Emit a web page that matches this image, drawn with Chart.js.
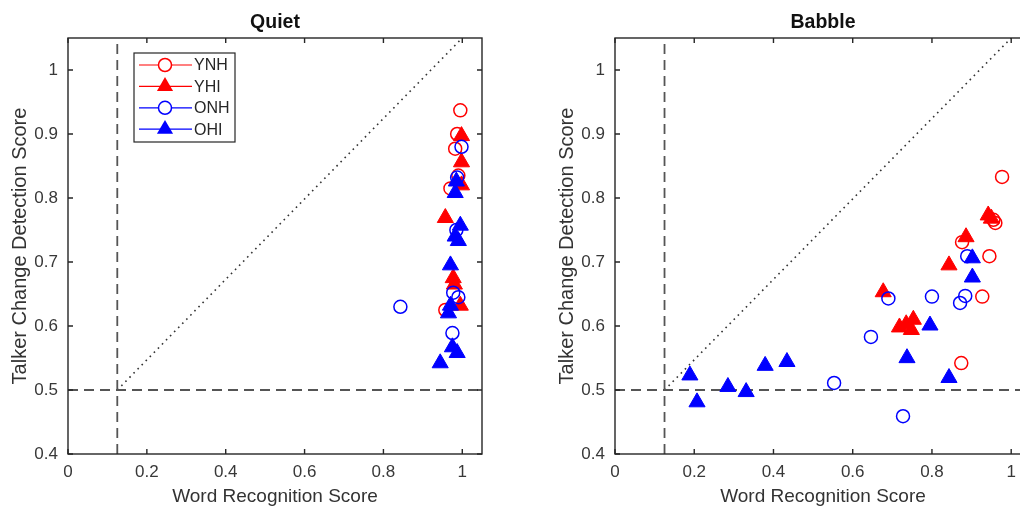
<!DOCTYPE html>
<html>
<head>
<meta charset="utf-8">
<script src="https://cdn.jsdelivr.net/npm/chart.js@4/dist/chart.umd.min.js"></script>
<style>
  html, body { margin: 0; padding: 0; background: #fff; overflow: hidden; width: 1020px; height: 508px; }
  canvas { position: absolute; top: 0; }
  #quietChart { left: 0; }
  #babbleChart { left: 547px; }
</style>
</head>
<body>
<canvas id="quietChart" width="510" height="508"></canvas>
<canvas id="babbleChart" width="512" height="508"></canvas>
<script>
// ───────── data ─────────
const groups = ['YNH', 'YHI', 'ONH', 'OHI'];

// Quiet: [word recognition, talker change detection]
const quietYNH = [[0.995, 0.937], [0.987, 0.900], [0.982, 0.877], [0.990, 0.835], [0.970, 0.815], [0.957, 0.625]];
const quietYHI = [[0.998, 0.897], [0.998, 0.856], [0.998, 0.820], [0.957, 0.769], [0.977, 0.675], [0.980, 0.665], [0.995, 0.632]];
const quietONH = [[0.998, 0.880], [0.987, 0.832], [0.985, 0.750], [0.977, 0.652], [0.990, 0.645], [0.843, 0.630], [0.975, 0.589]];
const quietOHI = [[0.985, 0.826], [0.982, 0.808], [0.995, 0.757], [0.982, 0.740], [0.990, 0.733], [0.970, 0.695],
                  [0.970, 0.632], [0.965, 0.620], [0.975, 0.567], [0.987, 0.558], [0.944, 0.542]];

// Babble
const babbleYNH = [[0.977, 0.833], [0.955, 0.766], [0.960, 0.761], [0.876, 0.731], [0.945, 0.709], [0.927, 0.646], [0.874, 0.542]];
const babbleYHI = [[0.942, 0.773], [0.950, 0.768], [0.886, 0.739], [0.843, 0.695], [0.677, 0.653],
                   [0.718, 0.598], [0.735, 0.603], [0.748, 0.594], [0.753, 0.610]];
const babbleONH = [[0.889, 0.709], [0.690, 0.643], [0.800, 0.646], [0.884, 0.647], [0.871, 0.636],
                   [0.646, 0.583], [0.553, 0.511], [0.727, 0.459]];
const babbleOHI = [[0.902, 0.706], [0.902, 0.676], [0.795, 0.601], [0.737, 0.550], [0.843, 0.519],
                   [0.189, 0.523], [0.207, 0.481], [0.285, 0.505], [0.331, 0.497], [0.379, 0.538], [0.434, 0.544]];

// chance levels + diagonal reference
const chanceWord = 0.125;
const chanceTalker = 0.5;
const diagEnd = [1.0, 1.05];

// axes
const xRange = [0, 1.05];
const yRange = [0.4, 1.05];
const xTicks = [0, 0.2, 0.4, 0.6, 0.8, 1];
const xTickLabels = ['0', '0.2', '0.4', '0.6', '0.8', '1'];
const yTicks = [0.4, 0.5, 0.6, 0.7, 0.8, 0.9, 1];
const yTickLabels = ['0.4', '0.5', '0.6', '0.7', '0.8', '0.9', '1'];

const FONT = "'Liberation Sans', Arial, sans-serif";
const INK = '#262626';

// marker styles per group
const styles = {
    YNH: { color: '#ff0000', shape: 'circle', filled: false, r: 6.5 },
    YHI: { color: '#ff0000', shape: 'triangle', filled: true, r: 9.3 },
    ONH: { color: '#0000ff', shape: 'circle', filled: false, r: 6.5 },
    OHI: { color: '#0000ff', shape: 'triangle', filled: true, r: 9.3 }
};

function groupDataset(name, pts, order) {
    const s = styles[name];
    return {
        type: 'scatter',
        label: name,
        data: pts.map(p => ({ x: p[0], y: p[1] })),
        pointStyle: s.shape,
        pointRadius: s.r,
        pointBorderWidth: s.filled ? 1 : 1.5,
        pointBorderColor: s.color,
        pointBackgroundColor: s.filled ? s.color : 'rgba(0,0,0,0)',
        order: order
    };
}

function refDatasets() {
    const base = { type: 'line', pointRadius: 0, fill: false, tension: 0, order: 10 };
    return [
        { ...base, data: [{ x: chanceWord, y: yRange[0] }, { x: chanceWord, y: yRange[1] }],
          borderColor: '#555', borderWidth: 1.8, borderDash: [10, 6] },
        { ...base, data: [{ x: xRange[0], y: chanceTalker }, { x: xRange[1], y: chanceTalker }],
          borderColor: '#555', borderWidth: 1.8, borderDash: [10, 6] },
        { ...base, data: [{ x: chanceWord, y: chanceTalker }, { x: diagEnd[0], y: diagEnd[1] }],
          borderColor: '#333', borderWidth: 1.6, borderDash: [1.6, 4.2] }
    ];
}

function drawMarker(ctx, name, x, y) {
    const s = styles[name];
    ctx.beginPath();
    if (s.shape === 'circle') {
        ctx.arc(x, y, s.r, 0, Math.PI * 2);
        ctx.lineWidth = 1.5;
        ctx.strokeStyle = s.color;
        ctx.fillStyle = '#fff';
        ctx.fill();
        ctx.stroke();
    } else {
        let rad = 0;
        ctx.moveTo(x + Math.sin(rad) * s.r, y - Math.cos(rad) * s.r);
        rad += 2 * Math.PI / 3;
        ctx.lineTo(x + Math.sin(rad) * s.r, y - Math.cos(rad) * s.r);
        rad += 2 * Math.PI / 3;
        ctx.lineTo(x + Math.sin(rad) * s.r, y - Math.cos(rad) * s.r);
        ctx.closePath();
        ctx.fillStyle = s.color;
        ctx.fill();
    }
}

// axes box, inward ticks, panel title, legend
const framePlugin = {
    id: 'frame',
    afterDatasetsDraw(chart, args, opts) {
        const { ctx, chartArea: a, scales: { x, y } } = chart;
        ctx.save();
        ctx.strokeStyle = INK;
        ctx.lineWidth = 1.4;
        ctx.strokeRect(a.left, a.top, a.right - a.left, a.bottom - a.top);

        ctx.beginPath();
        xTicks.forEach(v => {
            const px = x.getPixelForValue(v);
            ctx.moveTo(px, a.bottom); ctx.lineTo(px, a.bottom - 5);
            ctx.moveTo(px, a.top); ctx.lineTo(px, a.top + 5);
        });
        yTicks.forEach(v => {
            const py = y.getPixelForValue(v);
            ctx.moveTo(a.left, py); ctx.lineTo(a.left + 5, py);
            ctx.moveTo(a.right, py); ctx.lineTo(a.right - 5, py);
        });
        ctx.stroke();

        // title
        ctx.fillStyle = '#111';
        ctx.font = `bold 19.5px ${FONT}`;
        ctx.textAlign = 'center';
        ctx.textBaseline = 'middle';
        ctx.fillText(opts.title, (a.left + a.right) / 2, 23);

        // legend
        if (opts.legend) {
            const bx = a.left + 66, by = a.top + 15, bw = 101, bh = 89;
            ctx.fillStyle = '#fff';
            ctx.fillRect(bx, by, bw, bh);
            ctx.strokeStyle = INK;
            ctx.lineWidth = 1.2;
            ctx.strokeRect(bx, by, bw, bh);
            groups.forEach((g, i) => {
                const ry = by + 12 + i * 21.4;
                ctx.strokeStyle = styles[g].color;
                ctx.lineWidth = 1.2;
                ctx.beginPath();
                ctx.moveTo(bx + 5, ry); ctx.lineTo(bx + 58, ry);
                ctx.stroke();
                drawMarker(ctx, g, bx + 31, ry);
                ctx.fillStyle = INK;
                ctx.font = `16px ${FONT}`;
                ctx.textAlign = 'left';
                ctx.textBaseline = 'middle';
                ctx.fillText(g, bx + 60, ry + 1);
            });
        }
        ctx.restore();
    }
};

function makeChart(canvasId, title, sets, legend) {
    const ctx = document.getElementById(canvasId).getContext('2d');
    const datasets = [
        ...refDatasets(),
        groupDataset('YNH', sets[0], 4),
        groupDataset('YHI', sets[1], 3),
        groupDataset('ONH', sets[2], 2),
        groupDataset('OHI', sets[3], 1)
    ];
    return new Chart(ctx, {
        type: 'scatter',
        data: { datasets },
        plugins: [framePlugin],
        options: {
            responsive: false,
            animation: false,
            events: [],
            devicePixelRatio: 1,
            layout: { padding: { top: 38, right: 28, left: 0, bottom: 0 } },
            plugins: {
                legend: { display: false },
                tooltip: { enabled: false },
                frame: { title, legend }
            },
            scales: {
                x: {
                    type: 'linear',
                    min: xRange[0], max: xRange[1],
                    afterBuildTicks: s => { s.ticks = xTicks.map(v => ({ value: v })); },
                    afterFit: s => { s.height = 54; },
                    grid: { display: false, drawTicks: false },
                    border: { display: false },
                    ticks: {
                        autoSkip: false, maxRotation: 0, padding: 8,
                        color: '#383838', font: { family: FONT, size: 17 },
                        callback: (v, i) => xTickLabels[i]
                    },
                    title: {
                        display: true, text: 'Word Recognition Score',
                        color: '#333', font: { family: FONT, size: 19 },
                        padding: { top: 0, bottom: 0 }
                    }
                },
                y: {
                    type: 'linear',
                    min: yRange[0], max: yRange[1],
                    afterBuildTicks: s => { s.ticks = yTicks.map(v => ({ value: v })); },
                    afterFit: s => { s.width = 68; },
                    grid: { display: false, drawTicks: false },
                    border: { display: false },
                    ticks: {
                        autoSkip: false, padding: 10,
                        color: '#383838', font: { family: FONT, size: 17 },
                        callback: (v, i) => yTickLabels[i]
                    },
                    title: {
                        display: true, text: 'Talker Change Detection Score',
                        color: '#333', font: { family: FONT, size: 20 },
                        padding: { top: 8, bottom: 0 }
                    }
                }
            }
        }
    });
}

makeChart('quietChart', 'Quiet', [quietYNH, quietYHI, quietONH, quietOHI], true);
makeChart('babbleChart', 'Babble', [babbleYNH, babbleYHI, babbleONH, babbleOHI], false);
</script>
</body>
</html>
